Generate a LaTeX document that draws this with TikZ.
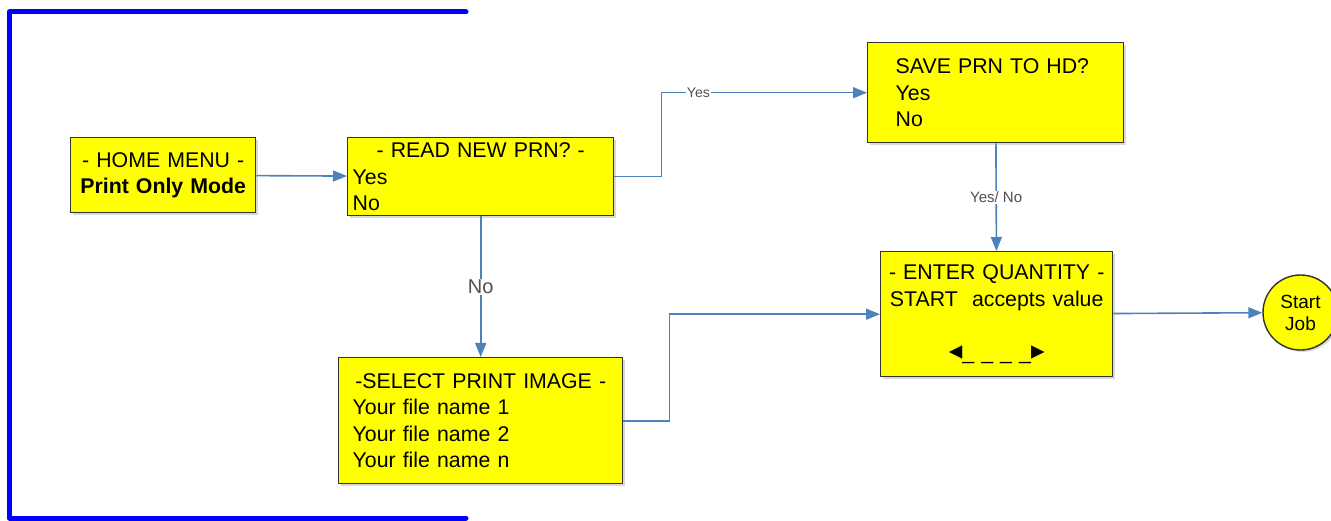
\documentclass[tikz,border=0pt]{standalone}
\usepackage{fontspec}
\setmainfont{Liberation Sans}
\newfontfamily\symfont{DejaVu Sans}
\usetikzlibrary{arrows.meta,shadows}
\definecolor{menuyellow}{HTML}{FFFF00}
\definecolor{linkblue}{HTML}{4F81BD}
\definecolor{framegray}{HTML}{333333}
\definecolor{labelgray}{HTML}{505050}

\begin{document}
\begin{tikzpicture}[x=1pt,y=-1pt,
  menubox/.style={draw=framegray,line width=1.4pt,fill=menuyellow,anchor=north west,
    drop shadow={shadow xshift=2pt,shadow yshift=-2pt,opacity=.3},
    font=\fontsize{21.3}{26.5}\selectfont,inner ysep=0pt},
  arrowlink/.style={draw=linkblue,line width=1.6pt,-{Triangle[length=14pt,width=11pt]}},
  linklabel/.style={fill=white,inner sep=1pt,text=labelgray}]
\useasboundingbox (0,0) rectangle (1331,521);
\draw[blue,line width=5pt,line cap=round,line join=round] (466,12) -- (9.5,12) -- (9.5,518) -- (466,518);
\node[menubox,align=center,text width=175,inner xsep=5,minimum height=75] (home) at (70,137) {- HOME MENU -\\\textbf{Print Only Mode}};
\node[menubox,align=left,text width=256,inner xsep=5,minimum height=78] (read) at (347,137) {{\centering - READ NEW PRN? -\par}Yes\\No};
\node[menubox,align=left,text width=200,inner xsep=28,minimum height=100] (save) at (867,42) {SAVE PRN TO HD?\\Yes\\No};
\node[menubox,align=center,text width=222,inner xsep=5,minimum height=125] (enter) at (880,251) {- ENTER QUANTITY -\\START\ \ accepts value\\[26.5pt]{\symfont\fontsize{27}{26.5}\selectfont ◂}\_ \_ \_ \_{\symfont\fontsize{27}{26.5}\selectfont ▸}};
\node[menubox,align=left,text width=256,inner xsep=14,minimum height=126] (select) at (338,357) {{\centering -SELECT PRINT IMAGE -\par}Your file name 1\\Your file name 2\\Your file name n};
\node[menubox,anchor=center,circle,align=center,inner sep=0pt,minimum size=75,font=\fontsize{19}{22}\selectfont] (job) at (1300.5,312.5) {Start\\Job};
\draw[arrowlink] (home) -- (read);
\draw[arrowlink] (read.east) -- ++(47,0) |- node[linklabel,pos=.59,font=\fontsize{14}{16}\selectfont]{Yes} (save.west);
\draw[arrowlink] (save) -- node[linklabel,font=\fontsize{15}{17}\selectfont]{Yes/ No} (enter);
\draw[arrowlink] (read) -- node[linklabel,font=\fontsize{20}{22}\selectfont]{No} (select);
\draw[arrowlink] (select.east) -- ++(46,0) |- (enter.west);
\draw[arrowlink] (enter) -- (job);
\end{tikzpicture}
\end{document}
